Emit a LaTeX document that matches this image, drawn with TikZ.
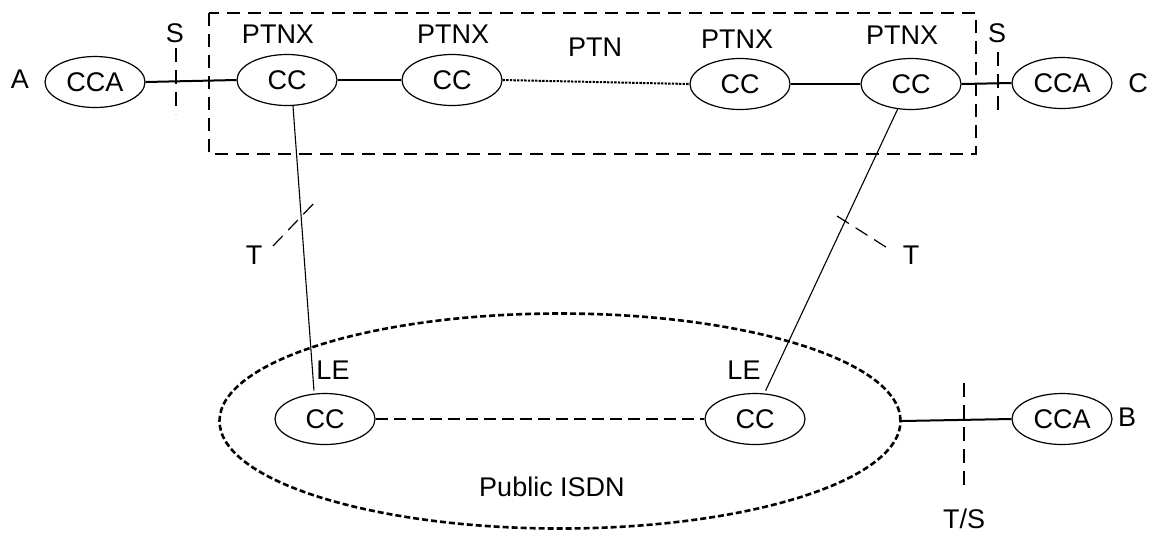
\documentclass[tikz,border=0pt]{standalone}
\usepackage{fontspec}
\setmainfont{Liberation Sans}
\usetikzlibrary{shapes.geometric}
\begin{document}
\begin{tikzpicture}[x=0.5pt,y=-0.5pt,
  every node/.style={font=\fontsize{13.5}{15}\selectfont},
  ell/.style={draw, line width=0.6pt, ellipse, inner sep=0pt, minimum width=50pt, minimum height=25.5pt},
  lbl/.style={inner sep=0pt},
  link/.style={line width=1pt},
  thin link/.style={line width=0.55pt},
  bound/.style={line width=0.6pt, dash pattern=on 6.5pt off 4pt},
  ref/.style={line width=0.6pt, dash pattern=on 7pt off 4pt},
  dotlink/.style={line width=1pt, dash pattern=on 1.2pt off 0.6pt},
  isdnline/.style={line width=1.3pt, dash pattern=on 3pt off 1.5pt},
  lelink/.style={line width=0.6pt, dash pattern=on 6pt off 3pt}]
\useasboundingbox (0,0) rectangle (1150,532);

% PTN boundary
\draw[bound] (209,13) rectangle (976,154);

% top row
\node[ell] (ccaA) at (95,82) {CCA};
\node[ell] (cc1) at (287,80) {CC};
\node[ell] (cc2) at (452,80) {CC};
\node[ell] (cc3) at (740,84) {CC};
\node[ell] (cc4) at (911,84) {CC};
\node[ell] (ccaC) at (1062,83) {CCA};

\node[lbl] (lA) at (20,79) {A};
\node[lbl] (lC) at (1138,83) {C};
\node[lbl] (p1) at (278,34) {PTNX};
\node[lbl] (p2) at (453,34) {PTNX};
\node[lbl] (p3) at (737,39) {PTNX};
\node[lbl] (p4) at (902,35) {PTNX};
\node[lbl] (ptn) at (595,47) {PTN};
\node[lbl] (sL) at (175,33) {S};
\node[lbl] (sR) at (997,33) {S};

\draw[link] (ccaA.east) -- (cc1.west);
\draw[link] (cc1.east) -- (cc2.west);
\draw[dotlink] (cc2.east) -- (cc3.west);
\draw[link] (cc3.east) -- (cc4.west);
\draw[link] (cc4.east) -- (ccaC.west);

\draw[ref] (176,48) -- (176,114);
\draw[ref] (998,52) -- (998,115);

% public ISDN
\node[draw, isdnline, ellipse, inner sep=0pt, minimum width=340.5pt, minimum height=107.5pt] (isdn) at (560,421) {};
\node[lbl] (pub) at (552,487) {Public ISDN};
\node[ell] (ccL) at (325,419) {CC};
\node[ell] (ccR) at (755,419) {CC};
\node[ell] (ccaB) at (1062,419) {CCA};
\node[lbl] (leL) at (333,370) {LE};
\node[lbl] (leR) at (744,370) {LE};
\node[lbl] (lB) at (1127,417) {B};
\node[lbl] (ts) at (964,519) {T/S};

\draw[lelink] (ccL.east) -- (ccR.west);
\draw[link] (isdn.east) -- (ccaB.west);
\draw[ref] (964,383) -- (964,492);

% access links
\draw[thin link, shorten >=1.5pt] (cc1.-77) -- (ccL.113);
\draw[thin link, shorten >=1.5pt] (cc4.-118) -- (ccR.70);

\draw[ref] (273,246) -- (316,201);
\draw[ref] (837,216) -- (889,249);
\node[lbl] (tL) at (254,255) {T};
\node[lbl] (tR) at (911,255) {T};
\end{tikzpicture}
\end{document}
